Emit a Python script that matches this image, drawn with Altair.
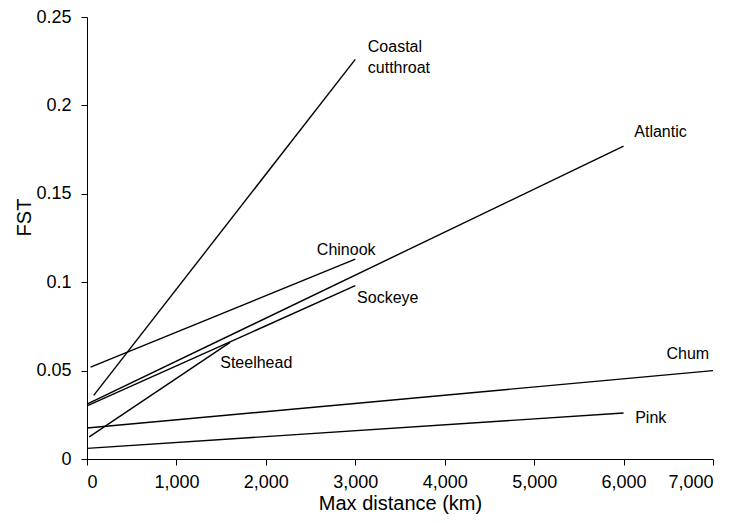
import altair as alt
import pandas as pd

species = ["Coastal cutthroat", "Chinook", "Atlantic", "Sockeye", "Steelhead", "Chum", "Pink"]
x_start = [75, 40, 0, 0, 25, 0, 0]
y_start = [0.036, 0.052, 0.031, 0.030, 0.0125, 0.0175, 0.006]
x_end = [3000, 3000, 6000, 3000, 1600, 7000, 6000]
y_end = [0.226, 0.113, 0.177, 0.098, 0.066, 0.050, 0.026]

label_text = ["Coastal", "cutthroat", "Chinook", "Atlantic", "Sockeye", "Steelhead", "Chum", "Pink"]
label_x = [3140, 3140, 2570, 6120, 3020, 1490, 6480, 6130]
label_y = [0.233, 0.221, 0.118, 0.185, 0.091, 0.0543, 0.0594, 0.0232]

rows = []
for s, x0, y0, x1, y1 in zip(species, x_start, y_start, x_end, y_end):
    rows.append({"species": s, "x": x0, "y": y0})
    rows.append({"species": s, "x": x1, "y": y1})
lines_df = pd.DataFrame(rows)
labels_df = pd.DataFrame({"text": label_text, "x": label_x, "y": label_y})

xscale = alt.Scale(domain=[0, 7000], nice=False, zero=True)
yscale = alt.Scale(domain=[0, 0.25], nice=False, zero=True)

lines = alt.Chart(lines_df).mark_line(color="black", strokeWidth=1.4).encode(
    x=alt.X("x:Q", scale=xscale,
            axis=alt.Axis(title="Max distance (km)", values=[0, 1000, 2000, 3000, 4000, 5000, 6000, 7000],
                          format=",d", titleBaseline="alphabetic", titleY=50, titleAnchor="middle")),
    y=alt.Y("y:Q", scale=yscale,
            axis=alt.Axis(title="FST", values=[0, 0.05, 0.1, 0.15, 0.2, 0.25], format="~g",
                          titleBaseline="alphabetic", titleX=-57, titleY=200, titleAngle=270,
                          titleAlign="center", labelPadding=10)),
    detail="species:N",
)

labels = alt.Chart(labels_df).mark_text(
    align="left", baseline="middle", font="Liberation Sans", fontSize=16, color="black"
).encode(
    x=alt.X("x:Q", scale=xscale),
    y=alt.Y("y:Q", scale=yscale),
    text="text:N",
)

chart = (lines + labels).properties(
    width=626, height=442,
    autosize=alt.AutoSizeParams(type="none"),
    padding={"left": 79, "top": 9, "right": 16, "bottom": 56},
).configure_view(stroke=None).configure_axis(
    grid=False, domainColor="black", tickColor="black", labelColor="black", titleColor="black",
    labelFont="Liberation Sans", titleFont="Liberation Sans", labelFontSize=18, titleFontSize=20,
    titleFontWeight="normal", tickSize=6, labelPadding=8, domainWidth=1, tickWidth=1,
)

chart.save("out.html", embed_options={"renderer": "svg", "actions": False})
